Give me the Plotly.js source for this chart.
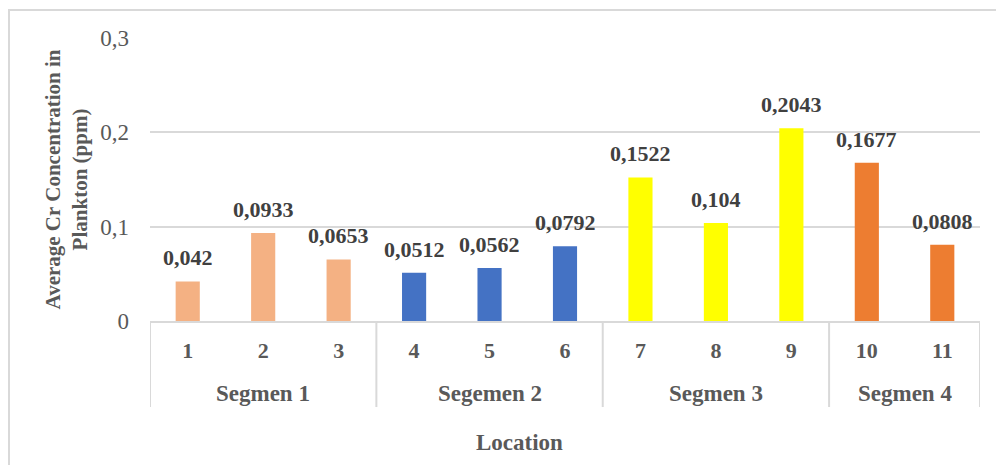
<!DOCTYPE html>
<html>
<head>
<meta charset="utf-8">
<script src="https://cdn.plot.ly/plotly-3.0.1.min.js"></script>
<style>
  html, body { margin: 0; padding: 0; background: #fff; }
  #wrap { position: relative; width: 996px; height: 465px; overflow: hidden; }
  #frame { position: absolute; left: 8px; top: 9px; width: 1000px; height: 470px;
           border: 2px solid #d9d9d9; box-sizing: border-box; pointer-events: none; }
  #chart { position: absolute; left: 0; top: 0; width: 996px; height: 465px; }
</style>
</head>
<body>
<div id="wrap">
  <div id="frame"></div>
  <div id="chart"></div>
</div>
<script>
// Average Cr concentration in plankton per sampling location
const segments = ["Segmen 1", "Segmen 1", "Segmen 1",
                  "Segemen 2", "Segemen 2", "Segemen 2",
                  "Segmen 3", "Segmen 3", "Segmen 3",
                  "Segmen 4", "Segmen 4"];
const locations = ["1", "2", "3", "4", "5", "6", "7", "8", "9", "10", "11"];
const crValues = [0.042, 0.0933, 0.0653, 0.0512, 0.0562, 0.0792,
                  0.1522, 0.104, 0.2043, 0.1677, 0.0808];
const segmentColors = {
  "Segmen 1": "#F4B183",
  "Segemen 2": "#4472C4",
  "Segmen 3": "#FFFF00",
  "Segmen 4": "#ED7D31"
};
const yTicks = [0, 0.1, 0.2, 0.3];

const serif = "'Liberation Serif', 'Times New Roman', serif";
const comma = v => String(v).replace(".", ",");

// group runs of consecutive locations belonging to the same segment
const groups = [];
segments.forEach((s, i) => {
  const last = groups[groups.length - 1];
  if (last && last.name === s) last.end = i;
  else groups.push({ name: s, start: i, end: i });
});

const trace = {
  type: "bar",
  x: locations,
  y: crValues,
  marker: { color: segments.map(s => segmentColors[s]) },
  width: 0.32,
  hoverinfo: "y"
};

// value labels above each bar (x given as category index)
const valueLabels = crValues.map((v, i) => ({
  x: i, y: v, xref: "x", yref: "y",
  text: comma(v), showarrow: false,
  yanchor: "bottom", yshift: 9,
  font: { family: serif, size: 22, color: "#404040", weight: "bold" }
}));

// segment names under the location numbers
const groupLabels = groups.map(g => ({
  x: (g.start + g.end) / 2, y: 0, xref: "x", yref: "paper",
  text: g.name, showarrow: false,
  yanchor: "middle", yshift: -72,
  font: { family: serif, size: 23, color: "#595959", weight: "bold" }
}));

const axisTitle = {
  x: 0.445, y: 0, xref: "paper", yref: "paper",
  text: "Location", showarrow: false,
  yanchor: "middle", yshift: -121,
  font: { family: serif, size: 23, color: "#595959", weight: "bold" }
};

// vertical separators between segment groups
const bounds = [groups[0].start - 0.5].concat(groups.map(g => g.end + 0.5));
const dividers = bounds.map(b => ({
  type: "line", xref: "x", yref: "paper",
  x0: b, x1: b, y0: 0, y1: -0.304,
  line: { color: "#d9d9d9", width: 2 }
}));

const layout = {
  width: 996,
  height: 465,
  margin: { l: 150, r: 16, t: 38, b: 144 },
  paper_bgcolor: "rgba(0,0,0,0)",
  plot_bgcolor: "rgba(0,0,0,0)",
  separators: ", ",
  showlegend: false,
  xaxis: {
    type: "category",
    range: [-0.5, locations.length - 0.5],
    showline: true,
    linecolor: "#d9d9d9",
    linewidth: 2,
    showgrid: false,
    ticks: "",
    ticklabelstandoff: 9,
    tickfont: { family: serif, size: 22, color: "#595959", weight: "bold" }
  },
  yaxis: {
    range: [0, 0.3],
    tickvals: yTicks,
    ticktext: yTicks.map(comma),
    showgrid: true,
    gridcolor: "#d9d9d9",
    gridwidth: 2,
    zeroline: false,
    showline: false,
    ticks: "",
    ticklabelstandoff: 20,
    tickfont: { family: serif, size: 23, color: "#595959" },
    title: {
      text: "Average Cr Concentration in<br>Plankton (ppm)",
      font: { family: serif, size: 21, color: "#595959", weight: "bold" },
      standoff: 6
    }
  },
  shapes: dividers,
  annotations: valueLabels.concat(groupLabels, [axisTitle])
};

Plotly.newPlot("chart", [trace], layout, { displayModeBar: false, staticPlot: true });
</script>
</body>
</html>
